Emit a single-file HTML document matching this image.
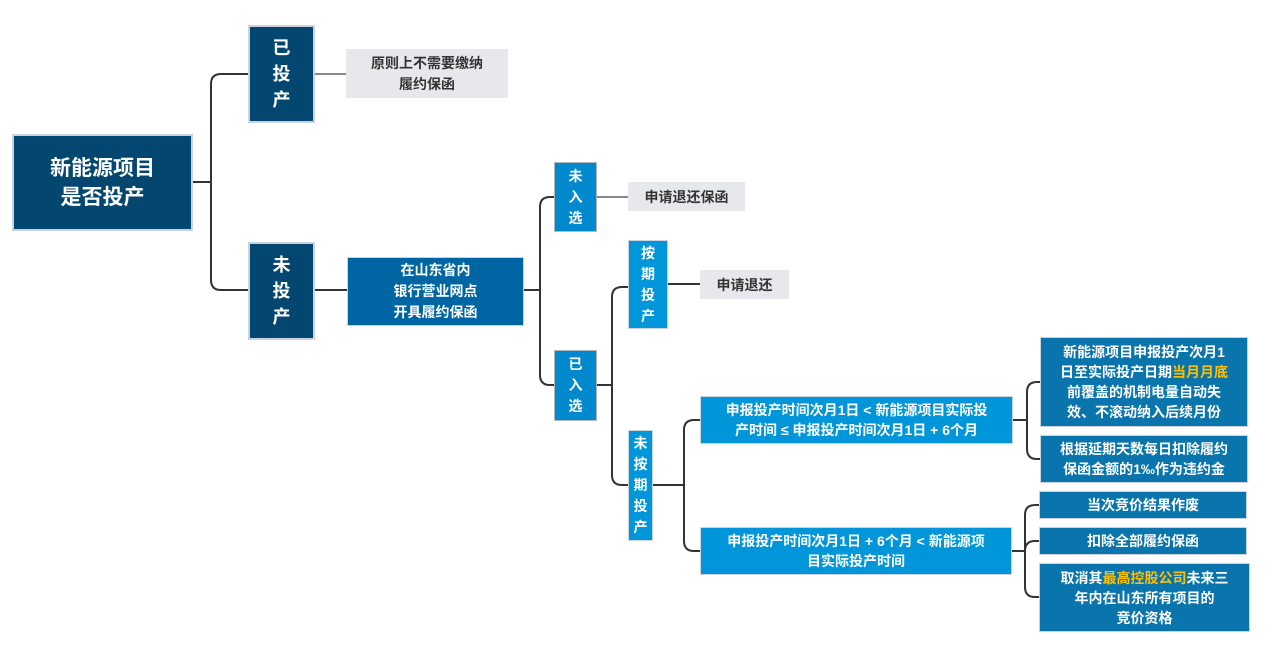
<!DOCTYPE html>
<html><head><meta charset="utf-8"><style>
html,body{margin:0;padding:0;background:#fff;width:1280px;height:658px;overflow:hidden;}
body{position:relative;font-family:"Liberation Sans","Noto Sans CJK SC",sans-serif;font-weight:bold;}
.b{position:absolute;box-sizing:border-box;display:flex;align-items:center;justify-content:center;text-align:center;color:#fff;}
.d{background:#03466f;border:2px solid #c9d4de;}
.m{background:#0066a3;border:1px solid #c9d4de;}
.l{background:#0288cc;border:1px solid #b0b8c0;}
.c{background:#0096d9;border:1px solid #c9d4de;}
.r{background:#0a75ac;border:1px solid #c9d4de;}
.g{background:#e6e8ec;color:#333;}
.y{color:#ffc000;}
svg{position:absolute;left:0;top:0;}
</style></head><body>
<svg width="1280" height="658" fill="none">
<g stroke="#333" stroke-width="2">
<path d="M192 182 H211 M221 74 H248 M221 290 H248 M211 182 V84 Q211 74 221 74 M211 182 V280 Q211 290 221 290"/>
<path d="M315 290 H347"/>
<path d="M523 290 H540 M540 207 Q540 197 550 197 H554 M540 207 V375 Q540 385 550 385 H554"/>
<path d="M596 385 H612 M612 297 Q612 287 622 287 H628 M612 297 V475 Q612 485 622 485 H628"/>
<path d="M652 485 H684 M684 430 Q684 420 694 420 H700 M684 430 V541 Q684 551 694 551 H700"/>
<path d="M1013 420 H1027 M1027 392 Q1027 382 1037 382 H1040 M1027 392 V449 Q1027 459 1037 459 H1040"/>
<path d="M1012 551 H1025 M1025 515 Q1025 505 1035 505 H1039 M1025 515 V587 Q1025 597 1035 597 H1039 M1025 551 Q1025 541 1035 541 H1039"/>
</g>
<g stroke="#888" stroke-width="2">
<path d="M315 74 H346 M596 197 H628"/>
</g>
<path d="M667 284 H700" stroke="#333" stroke-width="2"/>
</svg>
<div class="b d" style="left:12px;top:134px;width:181px;height:97px;font-size:21px;line-height:29px;"><div>新能源项目<br>是否投产</div></div>
<div class="b d" style="left:248px;top:25px;width:67px;height:98px;font-size:18px;line-height:26px;"><div>已<br>投<br>产</div></div>
<div class="b g" style="left:346px;top:49px;width:162px;height:49px;font-size:14px;line-height:21px;"><div>原则上不需要缴纳<br>履约保函</div></div>
<div class="b d" style="left:248px;top:242px;width:67px;height:98px;font-size:18px;line-height:26px;"><div>未<br>投<br>产</div></div>
<div class="b m" style="left:347px;top:257px;width:177px;height:69px;font-size:14px;line-height:21px;"><div>在山东省内<br>银行营业网点<br>开具履约保函</div></div>
<div class="b l" style="left:554px;top:162px;width:43px;height:70px;font-size:14px;line-height:21px;"><div>未<br>入<br>选</div></div>
<div class="b g" style="left:628px;top:182px;width:117px;height:29px;font-size:14px;"><div>申请退还保函</div></div>
<div class="b c" style="left:628px;top:240px;width:40px;height:89px;font-size:14px;line-height:21px;"><div>按<br>期<br>投<br>产</div></div>
<div class="b g" style="left:700px;top:270px;width:89px;height:29px;font-size:14px;"><div>申请退还</div></div>
<div class="b l" style="left:554px;top:350px;width:43px;height:71px;font-size:14px;line-height:21px;"><div>已<br>入<br>选</div></div>
<div class="b c" style="left:628px;top:430px;width:25px;height:111px;font-size:14px;line-height:21px;"><div>未<br>按<br>期<br>投<br>产</div></div>
<div class="b c" style="left:700px;top:396px;width:313px;height:48px;font-size:14px;line-height:20px;"><div>申报投产时间次月1日 &lt; 新能源项目实际投<br>产时间 ≤ 申报投产时间次月1日 + 6个月</div></div>
<div class="b c" style="left:700px;top:527px;width:312px;height:48px;font-size:14px;line-height:20px;"><div>申报投产时间次月1日 + 6个月 &lt; 新能源项<br>目实际投产时间</div></div>
<div class="b r" style="left:1040px;top:337px;width:208px;height:90px;font-size:14px;line-height:20px;"><div>新能源项目申报投产次月1<br>日至实际投产日期<span class="y">当月月底</span><br>前覆盖的机制电量自动失<br>效、不滚动纳入后续月份</div></div>
<div class="b r" style="left:1040px;top:435px;width:208px;height:48px;font-size:14px;line-height:20px;"><div>根据延期天数每日扣除履约<br>保函金额的1‰作为违约金</div></div>
<div class="b r" style="left:1039px;top:491px;width:208px;height:28px;font-size:14px;"><div>当次竞价结果作废</div></div>
<div class="b r" style="left:1039px;top:527px;width:208px;height:28px;font-size:14px;"><div>扣除全部履约保函</div></div>
<div class="b r" style="left:1039px;top:563px;width:211px;height:69px;font-size:14px;line-height:20px;"><div>取消其<span class="y">最高控股公司</span>未来三<br>年内在山东所有项目的<br>竞价资格</div></div>
</body></html>
